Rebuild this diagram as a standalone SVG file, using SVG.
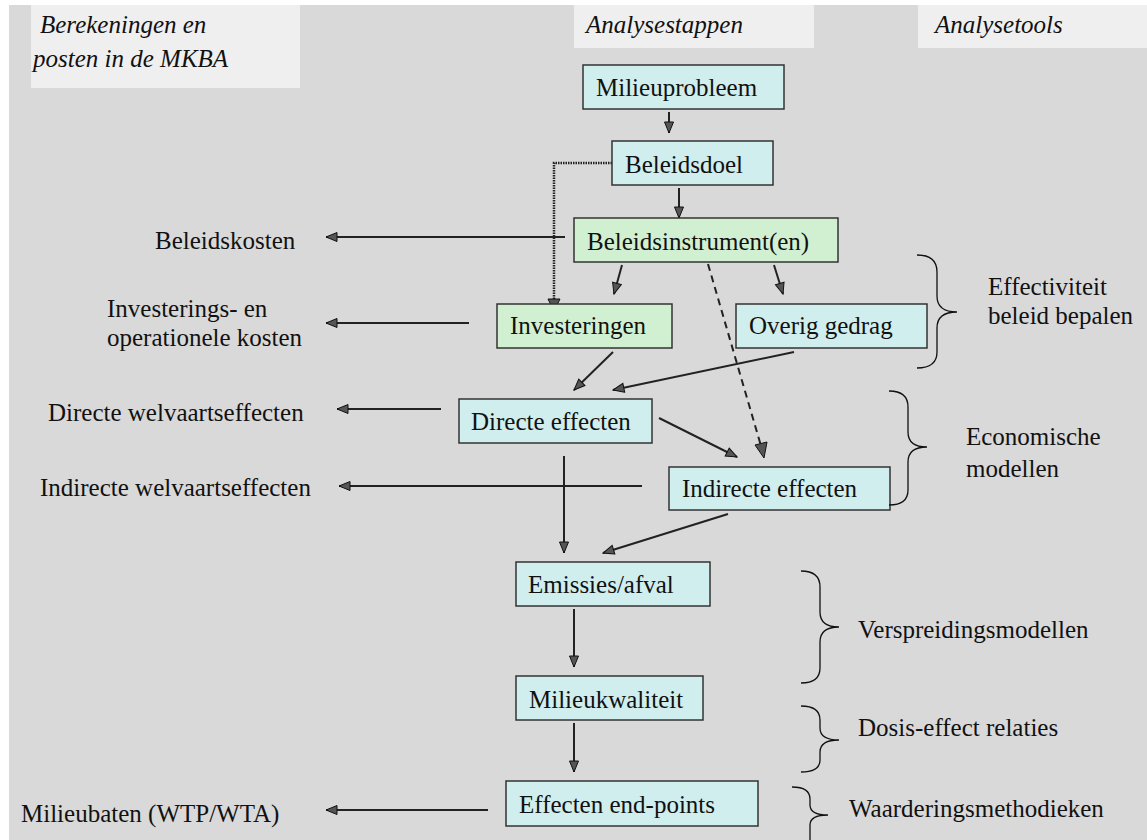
<svg xmlns="http://www.w3.org/2000/svg" width="1147" height="840" viewBox="0 0 1147 840">
<defs>
<style>
.t{font-family:"Liberation Serif","Times New Roman",serif;font-size:25px;fill:#111}
.h{font-family:"Liberation Serif","Times New Roman",serif;font-size:25px;font-style:italic;fill:#111}
.cy{fill:#d0eeee;stroke:#333;stroke-width:1.5}
.gr{fill:#d1f0d1;stroke:#333;stroke-width:1.5}
.hd{fill:#efefef}
.c{stroke:#222;stroke-width:2;fill:none}
.ca{stroke:#222;stroke-width:2;fill:none;marker-end:url(#ah)}
.br{stroke:#111;stroke-width:1.3;fill:none}
</style>
<marker id="ah" markerWidth="14" markerHeight="12" refX="12" refY="6" orient="auto" markerUnits="userSpaceOnUse">
<path d="M1,1.5 L12,6 L1,10.5 Z" fill="#555" stroke="#111" stroke-width="1"/>
</marker>
</defs>
<rect x="0" y="0" width="1147" height="840" fill="#ffffff"/>
<rect x="9" y="5" width="1138" height="835" fill="#d9d9d9"/>
<g id="headers">
<rect class="hd" x="31" y="5" width="269" height="83"/>
<rect class="hd" x="574" y="5" width="240" height="43"/>
<rect class="hd" x="918" y="5" width="229" height="43"/>
<text class="h" x="40" y="33">Berekeningen en</text>
<text class="h" x="33" y="67">posten in de MKBA</text>
<text class="h" x="586" y="33">Analysestappen</text>
<text class="h" x="935" y="33">Analysetools</text>
</g>
<g id="connectors">
<line class="ca" x1="669" y1="112" x2="669" y2="133"/>
<line class="ca" x1="679" y1="188" x2="679" y2="218"/>
<polyline fill="none" stroke="#222" stroke-width="2.5" stroke-dasharray="1.5,1" points="612,163 554,163 554,300"/>
<path d="M548,299 L554,311 L560,299 Z" fill="#555" stroke="#111" stroke-width="1"/>
<line class="ca" x1="565" y1="237" x2="326" y2="237"/>
<line class="ca" x1="469" y1="323" x2="326" y2="323"/>
<line class="ca" x1="622" y1="265" x2="614" y2="294"/>
<line class="ca" x1="774" y1="265" x2="783" y2="294"/>
<line stroke="#222" stroke-width="2" stroke-dasharray="7,5" x1="708" y1="264" x2="761" y2="446"/>
<path d="M755,445 L764,458 L767,442 Z" fill="#555" stroke="#111" stroke-width="1"/>
<line class="ca" x1="613" y1="352" x2="574" y2="390"/>
<line class="ca" x1="794" y1="352" x2="613" y2="390"/>
<line class="ca" x1="441" y1="409" x2="337" y2="409"/>
<line class="ca" x1="642" y1="486" x2="339" y2="486"/>
<line class="ca" x1="564" y1="456" x2="564" y2="553"/>
<line class="ca" x1="659" y1="418" x2="737" y2="457"/>
<line class="ca" x1="728" y1="514" x2="603" y2="553"/>
<line class="ca" x1="574" y1="609" x2="574" y2="667"/>
<line class="ca" x1="574" y1="723" x2="574" y2="772"/>
<line class="ca" x1="488" y1="810" x2="326" y2="810"/>
</g>
<g id="n-milieuprobleem"><rect class="cy" x="583" y="65" width="201" height="44"/><text class="t" x="596" y="96">Milieuprobleem</text></g>
<g id="n-beleidsdoel"><rect class="cy" x="612" y="141" width="161" height="44"/><text class="t" x="625" y="173">Beleidsdoel</text></g>
<g id="n-beleidsinstrument"><rect class="gr" x="574" y="218" width="264" height="44"/><text class="t" x="587" y="250">Beleidsinstrument(en)</text></g>
<g id="n-investeringen"><rect class="gr" x="497" y="304" width="175" height="44"/><text class="t" x="510" y="334">Investeringen</text></g>
<g id="n-overig"><rect class="cy" x="736" y="304" width="191" height="44"/><text class="t" x="749" y="334">Overig gedrag</text></g>
<g id="n-directe"><rect class="cy" x="459" y="399" width="193" height="44"/><text class="t" x="471" y="430">Directe effecten</text></g>
<g id="n-indirecte"><rect class="cy" x="669" y="467" width="221" height="43"/><text class="t" x="682" y="497">Indirecte effecten</text></g>
<g id="n-emissies"><rect class="cy" x="516" y="562" width="194" height="44"/><text class="t" x="528" y="593">Emissies/afval</text></g>
<g id="n-milieukwaliteit"><rect class="cy" x="516" y="676" width="187" height="44"/><text class="t" x="529" y="708">Milieukwaliteit</text></g>
<g id="n-endpoints"><rect class="cy" x="506" y="781" width="252" height="45"/><text class="t" x="519" y="813">Effecten end-points</text></g>
<g id="left-labels">
<text class="t" x="155" y="249">Beleidskosten</text>
<text class="t" x="107" y="317">Investerings- en</text>
<text class="t" x="107" y="346">operationele kosten</text>
<text class="t" x="48" y="421">Directe welvaartseffecten</text>
<text class="t" x="40" y="496">Indirecte welvaartseffecten</text>
<text class="t" x="21" y="822">Milieubaten (WTP/WTA)</text>
</g>
<g id="tools">
<path class="br" d="M917,255 Q937,255 937,272 L937,296 Q937,312 957,312 Q937,312 937,328 L937,352 Q937,368 917,368"/>
<path class="br" d="M889,391 Q908,391 908,407 L908,432 Q908,447 927,447 Q908,447 908,462 L908,490 Q908,505 889,505"/>
<path class="br" d="M801,571 Q820,571 820,587 L820,612 Q820,627 839,627 Q820,627 820,642 L820,668 Q820,683 801,683"/>
<path class="br" d="M801,706 Q820,706 820,720 L820,728 Q820,740 839,740 Q820,740 820,752 L820,760 Q820,772 801,772"/>
<path class="br" d="M792,787 Q810,787 810,799 L810,805 Q810,815 828,815 Q810,815 810,825 L810,842"/>
<text class="t" x="988" y="295">Effectiviteit</text>
<text class="t" x="988" y="324">beleid bepalen</text>
<text class="t" x="966" y="445">Economische</text>
<text class="t" x="966" y="477">modellen</text>
<text class="t" x="858" y="638">Verspreidingsmodellen</text>
<text class="t" x="858" y="736">Dosis-effect relaties</text>
<text class="t" x="849" y="817">Waarderingsmethodieken</text>
</g>
</svg>
